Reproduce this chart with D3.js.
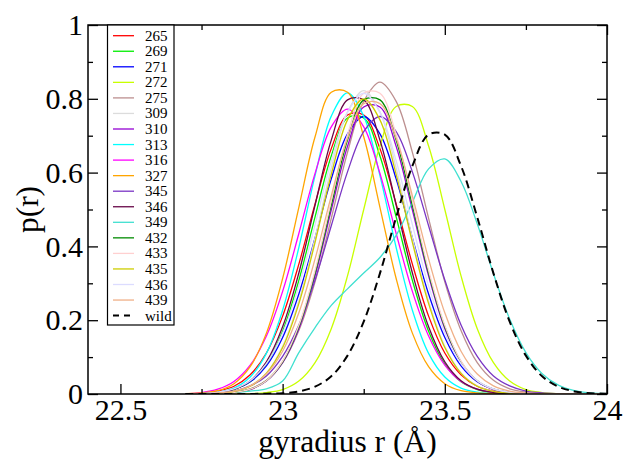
<!DOCTYPE html>
<html>
<head>
<meta charset="utf-8">
<script src="https://cdn.jsdelivr.net/npm/d3@7"></script>
</head>
<body style="margin:0">
<svg id="chart" width="626" height="465" font-family="Liberation Serif"></svg>
<script>
// Radius grid (Å) shared by every distribution
const radius = [22.70, 22.75, 22.80, 22.85, 22.90, 22.95, 23.00, 23.05, 23.10, 23.15, 23.20, 23.25, 23.30,
                23.35, 23.40, 23.45, 23.50, 23.55, 23.60, 23.65, 23.70, 23.75, 23.80, 23.85, 23.90, 23.95, 24.00];

const seriesNames = ["265", "269", "271", "272", "275", "309", "310", "313", "316", "327",
                     "345", "346", "349", "432", "433", "435", "436", "439", "wild"];

// p(r) for each variant, one value per radius
const p265 = [0.001,0.002,0.008,0.021,0.052,0.111,0.211,0.352,0.515,0.665,0.756,0.756,0.665,0.515,0.352,0.211,0.111,0.052,0.021,0.008,0.002,0.001,0,0,0,0,0];
const p269 = [0,0.001,0.004,0.012,0.033,0.081,0.170,0.308,0.480,0.645,0.748,0.748,0.645,0.480,0.308,0.170,0.081,0.033,0.012,0.004,0.001,0,0,0,0,0,0];
const p271 = [0,0.001,0.004,0.013,0.033,0.076,0.153,0.271,0.423,0.583,0.705,0.752,0.705,0.583,0.423,0.271,0.153,0.076,0.033,0.013,0.004,0.001,0,0,0,0,0];
const p272 = [0,0,0,0,0.001,0.004,0.012,0.035,0.085,0.177,0.320,0.500,0.672,0.779,0.779,0.672,0.500,0.320,0.177,0.085,0.035,0.012,0.004,0.001,0,0,0];
const p275 = [0,0,0.001,0.005,0.014,0.037,0.085,0.172,0.304,0.476,0.655,0.793,0.845,0.793,0.655,0.476,0.304,0.172,0.085,0.037,0.014,0.005,0.001,0,0,0,0];
const p309 = [0,0,0.002,0.007,0.022,0.057,0.129,0.252,0.423,0.612,0.764,0.822,0.764,0.612,0.423,0.252,0.129,0.057,0.022,0.007,0.002,0,0,0,0,0,0];
const p310 = [0,0,0.001,0.004,0.012,0.035,0.085,0.177,0.320,0.499,0.671,0.778,0.778,0.671,0.499,0.320,0.177,0.085,0.035,0.012,0.004,0.001,0,0,0,0,0];
const p313 = [0,0.001,0.005,0.016,0.046,0.110,0.227,0.397,0.592,0.753,0.816,0.753,0.592,0.397,0.227,0.110,0.046,0.016,0.005,0.001,0,0,0,0,0,0,0];
const p316 = [0.001,0.004,0.013,0.034,0.078,0.157,0.278,0.435,0.598,0.724,0.772,0.724,0.598,0.435,0.278,0.157,0.078,0.034,0.013,0.004,0.001,0,0,0,0,0,0];
const p327 = [0.001,0.003,0.009,0.028,0.074,0.165,0.313,0.506,0.697,0.818,0.818,0.697,0.506,0.313,0.165,0.074,0.028,0.009,0.003,0.001,0,0,0,0,0,0,0];
const p345 = [0,0.001,0.003,0.008,0.022,0.049,0.102,0.187,0.309,0.456,0.602,0.711,0.752,0.711,0.602,0.456,0.309,0.187,0.102,0.049,0.022,0.008,0.003,0.001,0,0,0];
const p346 = [0,0.001,0.004,0.013,0.036,0.087,0.182,0.328,0.512,0.688,0.797,0.797,0.688,0.512,0.328,0.182,0.087,0.036,0.013,0.004,0.001,0,0,0,0,0,0];
const p349 = [0,0.001,0.002,0.004,0.008,0.014,0.035,0.112,0.180,0.240,0.285,0.328,0.370,0.430,0.520,0.610,0.637,0.576,0.461,0.326,0.203,0.112,0.055,0.024,0.009,0.003,0.001];
const p432 = [0,0,0.001,0.004,0.013,0.036,0.087,0.182,0.328,0.512,0.688,0.797,0.797,0.688,0.512,0.328,0.182,0.087,0.036,0.013,0.004,0.001,0,0,0,0,0];
const p433 = [0,0,0.001,0.004,0.013,0.036,0.089,0.186,0.335,0.523,0.703,0.815,0.815,0.703,0.523,0.335,0.186,0.089,0.036,0.013,0.004,0.001,0,0,0,0,0];
const p435 = [0,0,0.002,0.007,0.021,0.056,0.126,0.245,0.411,0.595,0.743,0.800,0.743,0.595,0.411,0.245,0.126,0.056,0.021,0.007,0.002,0,0,0,0,0,0];
const p436 = [0,0.001,0.005,0.014,0.036,0.082,0.165,0.293,0.459,0.632,0.764,0.815,0.764,0.632,0.459,0.293,0.165,0.082,0.036,0.014,0.005,0.001,0,0,0,0,0];
const p439 = [0,0.001,0.003,0.008,0.022,0.054,0.116,0.220,0.366,0.537,0.693,0.787,0.787,0.693,0.537,0.366,0.220,0.116,0.054,0.022,0.008,0.003,0.001,0,0,0,0];
const pWild = [0,0,0,0,0,0.001,0.002,0.007,0.020,0.048,0.104,0.196,0.327,0.479,0.618,0.703,0.703,0.618,0.479,0.327,0.196,0.104,0.048,0.020,0.007,0.002,0.001];

const seriesValues = [p265, p269, p271, p272, p275, p309, p310, p313, p316, p327,
                      p345, p346, p349, p432, p433, p435, p436, p439, pWild];

const lineColors = ["#ff0000", "#00ee00", "#0000ff", "#c8ff00", "#bc8f8f", "#dcdcdc", "#9400d3", "#00ffff", "#ff00ff", "#ffa500",
                    "#7a35c4", "#670748", "#40e0d0", "#008b00", "#ffd0d0", "#cdcd00", "#dcdcff", "#f0b088", "#000000"];

const xTickValues = [22.5, 23, 23.5, 24];
const xTickLabels = ["22.5", "23", "23.5", "24"];
const xMinorValues = [22.75, 23.25, 23.75];
const yTickValues = [0, 0.2, 0.4, 0.6, 0.8, 1];
const yTickLabels = ["0", "0.2", "0.4", "0.6", "0.8", "1"];
const yMinorValues = [0.1, 0.3, 0.5, 0.7, 0.9];

const FONT = "Liberation Serif";

// ---- layout ----
const plot = { left: 88, right: 607, top: 25, bottom: 394 };
const svg = d3.select("#chart");

const x = d3.scaleLinear().domain([22.4, 24]).range([plot.left, plot.right]);
const y = d3.scaleLinear().domain([0, 1]).range([plot.bottom, plot.top]);

svg.append("defs").append("clipPath").attr("id", "plotClip")
  .append("rect")
  .attr("x", plot.left).attr("y", plot.top - 2)
  .attr("width", plot.right - plot.left).attr("height", plot.bottom - plot.top + 2);

// ---- curves ----
const line = d3.line()
  .x(d => x(d[0]))
  .y(d => y(Math.max(0, d[1])))
  .curve(d3.curveCatmullRom.alpha(0.5));

const curves = svg.append("g").attr("clip-path", "url(#plotClip)");
seriesValues.forEach((vals, i) => {
  const pts = radius.map((r, j) => [r, vals[j]]);
  const isWild = seriesNames[i] === "wild";
  curves.append("path")
    .attr("d", line(pts))
    .attr("fill", "none")
    .attr("stroke", lineColors[i])
    .attr("stroke-width", isWild ? 2 : 1.3)
    .attr("stroke-dasharray", isWild ? "8,5" : null);
});

// ---- axes (ticks point inward on all four sides) ----
function styleAxis(g) {
  g.attr("font-family", FONT).attr("font-size", 30);
  g.select(".domain").remove();
  g.selectAll(".tick line").attr("stroke", "#000").attr("stroke-width", 1.3);
  g.selectAll(".tick text").attr("fill", "#000").attr("font-family", FONT).attr("font-size", 30);
}

svg.append("g").attr("transform", `translate(0,${plot.bottom})`)
  .call(d3.axisBottom(x).tickValues(xTickValues).tickFormat((d, i) => xTickLabels[i])
        .tickSizeInner(-10).tickSizeOuter(0).tickPadding(5))
  .call(styleAxis);
svg.append("g").attr("transform", `translate(0,${plot.bottom})`)
  .call(d3.axisBottom(x).tickValues(xMinorValues).tickFormat("").tickSizeInner(-5).tickSizeOuter(0))
  .call(styleAxis);
svg.append("g").attr("transform", `translate(0,${plot.top})`)
  .call(d3.axisTop(x).tickValues(xTickValues).tickFormat("").tickSizeInner(-10).tickSizeOuter(0))
  .call(styleAxis);
svg.append("g").attr("transform", `translate(0,${plot.top})`)
  .call(d3.axisTop(x).tickValues(xMinorValues).tickFormat("").tickSizeInner(-5).tickSizeOuter(0))
  .call(styleAxis);

svg.append("g").attr("transform", `translate(${plot.left},0)`)
  .call(d3.axisLeft(y).tickValues(yTickValues).tickFormat((d, i) => yTickLabels[i])
        .tickSizeInner(-10).tickSizeOuter(0).tickPadding(5))
  .call(styleAxis);
svg.append("g").attr("transform", `translate(${plot.left},0)`)
  .call(d3.axisLeft(y).tickValues(yMinorValues).tickFormat("").tickSizeInner(-5).tickSizeOuter(0))
  .call(styleAxis);
svg.append("g").attr("transform", `translate(${plot.right},0)`)
  .call(d3.axisRight(y).tickValues(yTickValues).tickFormat("").tickSizeInner(-10).tickSizeOuter(0))
  .call(styleAxis);
svg.append("g").attr("transform", `translate(${plot.right},0)`)
  .call(d3.axisRight(y).tickValues(yMinorValues).tickFormat("").tickSizeInner(-5).tickSizeOuter(0))
  .call(styleAxis);

// frame
svg.append("rect")
  .attr("x", plot.left).attr("y", plot.top)
  .attr("width", plot.right - plot.left).attr("height", plot.bottom - plot.top)
  .attr("fill", "none").attr("stroke", "#000").attr("stroke-width", 1.5);

// ---- axis titles ----
svg.append("text")
  .attr("x", (plot.left + plot.right) / 2).attr("y", 452)
  .attr("text-anchor", "middle")
  .attr("font-family", FONT).attr("font-size", 31.5)
  .text("gyradius r (Å)");

svg.append("text")
  .attr("transform", `translate(38,${(plot.top + plot.bottom) / 2}) rotate(-90)`)
  .attr("text-anchor", "middle")
  .attr("font-family", FONT).attr("font-size", 31.5)
  .text("p(r)");

// ---- legend ----
const legend = svg.append("g");
legend.append("rect")
  .attr("x", 107.5).attr("y", plot.top)
  .attr("width", 66.5).attr("height", 300)
  .attr("fill", "#fff").attr("stroke", "#000").attr("stroke-width", 1.2);

seriesNames.forEach((name, i) => {
  const ly = 35.7 + i * 15.55;
  const isWild = name === "wild";
  legend.append("line")
    .attr("x1", 113).attr("x2", 134).attr("y1", ly).attr("y2", ly)
    .attr("stroke", lineColors[i])
    .attr("stroke-width", isWild ? 2 : 1.3)
    .attr("stroke-dasharray", isWild ? "6,5" : null);
  legend.append("text")
    .attr("x", 145).attr("y", ly + 5)
    .attr("font-family", FONT).attr("font-size", 15)
    .text(name);
});
</script>
</body>
</html>
